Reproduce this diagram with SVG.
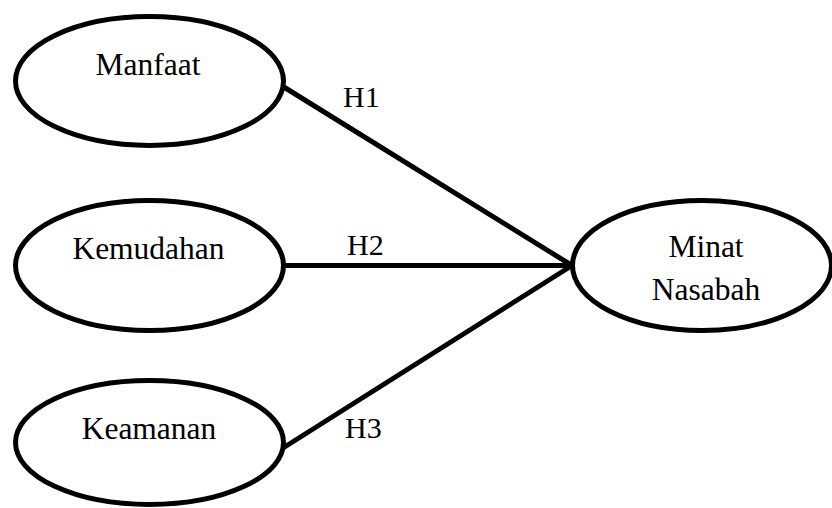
<svg xmlns="http://www.w3.org/2000/svg" width="832" height="508" viewBox="0 0 832 508">
<style>
.node ellipse{fill:#fff;stroke:#000;stroke-width:5}
.node text{font-family:"Liberation Serif","Times New Roman",serif;font-size:31.5px;fill:#000;text-anchor:middle}
.edges line{stroke:#000;stroke-width:5}
.lbl{font-family:"Liberation Serif","Times New Roman",serif;font-size:30px;fill:#000}
</style>
<rect width="832" height="508" fill="#fff"/>
<g id="connectors" class="edges">
<line x1="283" y1="86.5" x2="572" y2="265.5"/>
<line x1="285" y1="265.5" x2="572" y2="265.5"/>
<line x1="283" y1="448" x2="572" y2="265.5"/>
<text class="lbl" x="343" y="106.5">H1</text>
<text class="lbl" x="347" y="255">H2</text>
<text class="lbl" x="345" y="438">H3</text>
</g>
<g id="manfaat" class="node">
<ellipse cx="149.5" cy="81" rx="134" ry="64.5"/>
<text x="148" y="75">Manfaat</text>
</g>
<g id="kemudahan" class="node">
<ellipse cx="149.5" cy="265.5" rx="134" ry="65"/>
<text x="148.5" y="259">Kemudahan</text>
</g>
<g id="keamanan" class="node">
<ellipse cx="149.5" cy="442.5" rx="134" ry="62"/>
<text x="149" y="439">Keamanan</text>
</g>
<g id="minat" class="node">
<ellipse cx="702" cy="265.5" rx="129.5" ry="65"/>
<text x="706" y="257">Minat</text>
<text x="706" y="300">Nasabah</text>
</g>
</svg>
